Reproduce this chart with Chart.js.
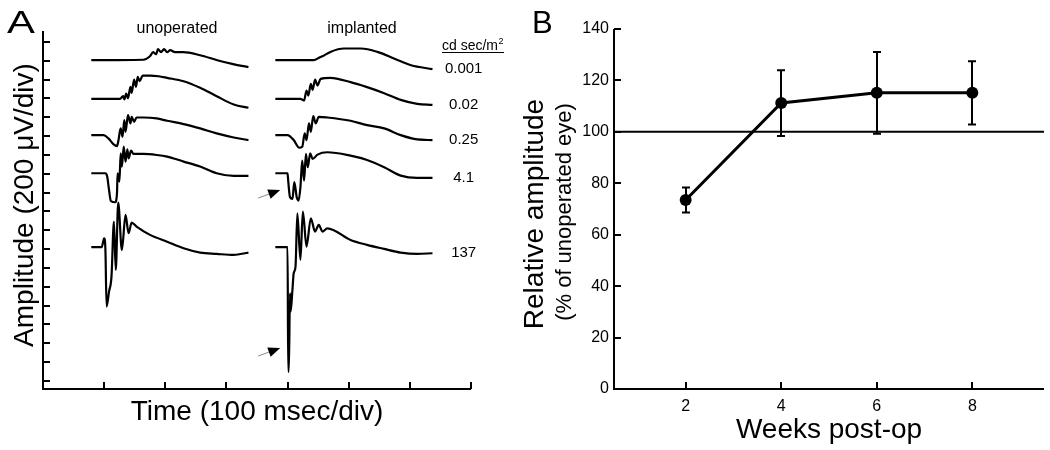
<!DOCTYPE html>
<html>
<head>
<meta charset="utf-8">
<script src="https://cdn.jsdelivr.net/npm/chart.js@4.4.1/dist/chart.umd.min.js"></script>
<style>
body { margin: 0; background: #fff; }
#wrap { position: relative; width: 1050px; height: 450px; }
#chartA { position: absolute; left: 0; top: 0; }
#chartB { position: absolute; left: 500px; top: 0; }
</style>
</head>
<body>
<div id="wrap">
  <canvas id="chartA" width="520" height="450"></canvas>
  <canvas id="chartB" width="550" height="450"></canvas>
</div>
<script>
const FONT = '"Liberation Sans", Arial, sans-serif';

// ---- Panel A: ERG traces, [time since flash (ms), amplitude from baseline (uV)] ----
const intensities = ['0.001', '0.02', '0.25', '4.1', '137'];
const baselines = [3405, 2995, 2610, 2205, 1420];   // uV, vertical stacking of the traces
const implantOffset = 300;                          // ms, implanted column starts 3 div later

const unop0001 = [[-21,0],[64,5],[75,42],[80,85],[85,64],[88,117],[93,85],[98,117],[103,85],[108,106],[116,85],[129,85],[157,53],[185,0],[211,-42],[236,-74]];
const unop002 = [[-21,0],[26,0],[31,28],[33,-7],[36,56],[39,7],[43,127],[45,64],[49,205],[52,127],[55,233],[58,187],[63,247],[75,247],[89,240],[103,223],[130,187],[157,117],[184,28],[212,-60],[236,-95]];
const unop025 = [[-21,0],[-1,0],[7,-35],[15,-95],[21,-117],[23,-71],[27,71],[30,-18],[33,159],[35,35],[39,212],[43,124],[45,195],[49,141],[53,187],[64,187],[86,177],[103,152],[130,117],[157,71],[184,18],[212,-25],[236,-53]];
const unop41 = [[-21,0],[2,0],[5,-35],[8,-177],[11,-294],[18,-308],[21,-212],[22,0],[25,-88],[27,212],[29,71],[32,283],[35,124],[38,255],[40,159],[44,240],[48,205],[64,205],[86,194],[103,177],[130,124],[157,71],[184,0],[212,-28],[236,-28]];
const unop137 = [[-21,0],[-4,0],[0,95],[2,-11],[4,-630],[8,-471],[12,-312],[16,272],[19,-241],[23,473],[29,-29],[35,343],[40,149],[45,261],[53,219],[75,131],[103,59],[130,-11],[157,-57],[184,-71],[212,-82],[236,-57]];

const impl0001 = [[-20,0],[43,0],[52,28],[57,42],[70,88],[92,124],[120,124],[147,88],[174,18],[202,-53],[237,-95]];
const impl002 = [[-20,0],[21,0],[27,-18],[31,88],[34,35],[38,159],[41,95],[45,205],[49,141],[54,212],[70,223],[103,177],[130,124],[158,60],[185,-11],[212,-53],[237,-64]];
const impl025 = [[-20,0],[0,0],[10,-53],[19,-134],[24,-124],[28,18],[31,-53],[35,124],[38,35],[42,201],[46,124],[51,194],[65,187],[103,152],[130,106],[158,71],[185,0],[212,-46],[237,-53]];
const impl41 = [[-20,0],[0,0],[1,-78],[4,-255],[8,-272],[11,-95],[15,-255],[18,-290],[21,-149],[24,134],[27,-78],[30,205],[33,64],[37,212],[41,152],[49,198],[65,223],[103,187],[130,141],[158,64],[185,-25],[212,-50],[237,-50]];
const impl137 = [[-20,0],[0,0],[1,-1320],[2,-1320],[4,-488],[5,-683],[8,-449],[10,-276],[13,-205],[16,360],[21,-134],[25,378],[31,7],[38,307],[45,166],[51,237],[57,166],[65,201],[103,77],[130,25],[158,-18],[185,-57],[212,-71],[237,-64]];

const unopTraces = [unop0001, unop002, unop025, unop41, unop137];
const implTraces = [impl0001, impl002, impl025, impl41, impl137];

// arrows marking the a-wave of the implanted eye: [t0, amp0, t1, amp1] on the A axes
const arrows = [[252, 1942, 288, 2027], [252, 265, 288, 350]];

const timeTicks = [0, 100, 200, 300, 400, 500, 600];
const ampTicks = [];
for (let v = 0; v <= 3600; v += 200) ampTicks.push(v);

// ---- Panel B: relative amplitude ----
const weeks = [2, 4, 6, 8];
const relAmp = [73.5, 111.2, 115.2, 115.2];
const relSem = [4.9, 12.8, 15.9, 12.3];
const weekTicks = [2, 4, 6, 8];
const relTicks = [0, 20, 40, 60, 80, 100, 120, 140];

function toPoints(pairs, dx, dy) {
    return pairs.map(([t, a]) => ({ x: t + dx, y: a + dy }));
}

function vText(ctx, text, x, y, font) {
    ctx.save();
    ctx.translate(x, y);
    ctx.rotate(-Math.PI / 2);
    ctx.font = font;
    ctx.textAlign = 'center';
    ctx.textBaseline = 'alphabetic';
    ctx.fillText(text, 0, 0);
    ctx.restore();
}

const ergPanel = {
    id: 'ergPanel',
    afterDraw(chart) {
        const { ctx, chartArea: a, scales: { x, y } } = chart;
        ctx.save();
        ctx.strokeStyle = '#000';
        ctx.fillStyle = '#000';
        ctx.lineWidth = 2;
        ctx.lineJoin = 'miter';
        ctx.beginPath();
        ctx.moveTo(a.left, a.top);
        ctx.lineTo(a.left, a.bottom);
        ctx.lineTo(a.right, a.bottom);
        ctx.stroke();

        ctx.beginPath();
        ampTicks.forEach(v => {
            const py = Math.round(y.getPixelForValue(v));
            ctx.moveTo(a.left, py);
            ctx.lineTo(a.left + 7, py);
        });
        timeTicks.forEach(v => {
            const px = Math.round(x.getPixelForValue(v));
            ctx.moveTo(px, a.bottom);
            ctx.lineTo(px, a.bottom - 7);
        });
        ctx.stroke();

        // intensity labels at the level where each implanted trace ends
        ctx.font = '15px ' + FONT;
        ctx.textAlign = 'center';
        ctx.textBaseline = 'middle';
        intensities.forEach((lab, i) => {
            const last = implTraces[i][implTraces[i].length - 1];
            ctx.fillText(lab, x.getPixelForValue(588), y.getPixelForValue(baselines[i] + last[1]));
        });

        // unit header, underlined with superscript
        ctx.textAlign = 'left';
        ctx.textBaseline = 'alphabetic';
        ctx.font = '14px ' + FONT;
        const hx = 442, hy = 50;
        ctx.fillText('cd sec/m', hx, hy);
        const w1 = ctx.measureText('cd sec/m').width;
        ctx.font = '9px ' + FONT;
        ctx.fillText('2', hx + w1 + 0.5, hy - 6);
        const w2 = ctx.measureText('2').width;
        ctx.lineWidth = 1;
        ctx.beginPath();
        ctx.moveTo(hx, hy + 2.5);
        ctx.lineTo(hx + w1 + w2 + 1, hy + 2.5);
        ctx.stroke();

        // column headings
        ctx.font = '16px ' + FONT;
        ctx.textAlign = 'center';
        ctx.fillText('unoperated', 177, 33);
        ctx.fillText('implanted', 362, 33);

        // arrows
        arrows.forEach(([t0, a0, t1, a1]) => {
            const x0 = x.getPixelForValue(t0), y0 = y.getPixelForValue(a0);
            const x1 = x.getPixelForValue(t1), y1 = y.getPixelForValue(a1);
            const ang = Math.atan2(y1 - y0, x1 - x0);
            const hl = 12, hw = 5;
            const bx = x1 - hl * Math.cos(ang), by = y1 - hl * Math.sin(ang);
            ctx.strokeStyle = '#888';
            ctx.lineWidth = 1;
            ctx.beginPath();
            ctx.moveTo(x0, y0);
            ctx.lineTo(bx, by);
            ctx.stroke();
            ctx.fillStyle = '#000';
            ctx.beginPath();
            ctx.moveTo(x1, y1);
            ctx.lineTo(bx + hw * Math.sin(ang), by - hw * Math.cos(ang));
            ctx.lineTo(bx - hw * Math.sin(ang), by + hw * Math.cos(ang));
            ctx.closePath();
            ctx.fill();
        });

        // titles
        ctx.fillStyle = '#000';
        ctx.textAlign = 'center';
        ctx.font = '28px ' + FONT;
        ctx.fillText('Time (100 msec/div)', 257, 420);
        vText(ctx, 'Amplitude (200 \u03BCV/div)', 33, 205, '28px ' + FONT);

        ctx.save();
        ctx.translate(7, 33);
        ctx.scale(1.35, 1);
        ctx.font = '31px ' + FONT;
        ctx.textAlign = 'left';
        ctx.fillText('A', 0, 0);
        ctx.restore();
        ctx.restore();
    }
};

const traceDatasets = [];
unopTraces.forEach((tr, i) => {
    traceDatasets.push({ data: toPoints(tr, 0, baselines[i]) });
});
implTraces.forEach((tr, i) => {
    traceDatasets.push({ data: toPoints(tr, implantOffset, baselines[i]) });
});
traceDatasets.forEach(ds => {
    ds.borderColor = '#000';
    ds.borderWidth = 2.2;
    ds.pointRadius = 0;
    ds.cubicInterpolationMode = 'monotone';
    ds.fill = false;
});

new Chart(document.getElementById('chartA'), {
    type: 'line',
    data: { datasets: traceDatasets },
    options: {
        responsive: false,
        animation: false,
        devicePixelRatio: 1,
        layout: { padding: { left: 43, top: 31, right: 49, bottom: 61 } },
        plugins: { legend: { display: false }, tooltip: { enabled: false } },
        scales: {
            x: { type: 'linear', display: false, min: -100, max: 600 },
            y: { type: 'linear', display: false, min: -85, max: 3715 }
        }
    },
    plugins: [ergPanel]
});

// ---- Panel B ----
const relPanel = {
    id: 'relPanel',
    beforeDatasetsDraw(chart) {
        const { ctx, scales: { x, y } } = chart;
        ctx.save();
        ctx.strokeStyle = '#000';
        ctx.lineWidth = 2;
        ctx.beginPath();
        weeks.forEach((w, i) => {
            const px = Math.round(x.getPixelForValue(w));
            const yHi = y.getPixelForValue(relAmp[i] + relSem[i]);
            const yLo = y.getPixelForValue(relAmp[i] - relSem[i]);
            ctx.moveTo(px, yHi); ctx.lineTo(px, yLo);
            ctx.moveTo(px - 4, yHi); ctx.lineTo(px + 4, yHi);
            ctx.moveTo(px - 4, yLo); ctx.lineTo(px + 4, yLo);
        });
        ctx.stroke();
        ctx.restore();
    },
    afterDraw(chart) {
        const { ctx, chartArea: a, scales: { x, y } } = chart;
        ctx.save();
        ctx.strokeStyle = '#000';
        ctx.fillStyle = '#000';
        ctx.lineWidth = 2;
        ctx.beginPath();
        ctx.moveTo(a.left, a.top);
        ctx.lineTo(a.left, a.bottom);
        ctx.lineTo(a.right, a.bottom);
        ctx.stroke();

        ctx.beginPath();
        relTicks.forEach(v => {
            const py = Math.round(y.getPixelForValue(v));
            ctx.moveTo(a.left, py);
            ctx.lineTo(a.left + 7, py);
        });
        weekTicks.forEach(v => {
            const px = Math.round(x.getPixelForValue(v));
            ctx.moveTo(px, a.bottom);
            ctx.lineTo(px, a.bottom - 7);
        });
        ctx.stroke();

        ctx.font = '16px ' + FONT;
        ctx.textAlign = 'right';
        ctx.textBaseline = 'middle';
        relTicks.forEach(v => ctx.fillText(String(v), a.left - 5, y.getPixelForValue(v)));
        ctx.textAlign = 'center';
        ctx.textBaseline = 'top';
        weekTicks.forEach(v => ctx.fillText(String(v), x.getPixelForValue(v), a.bottom + 10));

        ctx.textBaseline = 'alphabetic';
        ctx.font = '28px ' + FONT;
        ctx.fillText('Weeks post-op', 329, 438);
        vText(ctx, 'Relative amplitude', 43, 214, '28px ' + FONT);
        vText(ctx, '(% of unoperated eye)', 71, 212, '22px ' + FONT);

        ctx.font = '31px ' + FONT;
        ctx.textAlign = 'left';
        ctx.fillText('B', 32, 33);
        ctx.restore();
    }
};

new Chart(document.getElementById('chartB'), {
    type: 'line',
    data: {
        datasets: [
            {
                data: [{ x: 0.5, y: 100 }, { x: 9.5, y: 100 }],
                borderColor: '#000',
                borderWidth: 2,
                pointRadius: 0
            },
            {
                data: weeks.map((w, i) => ({ x: w, y: relAmp[i] })),
                borderColor: '#000',
                borderWidth: 3,
                pointRadius: 6,
                pointBackgroundColor: '#000',
                pointBorderWidth: 0,
                tension: 0
            }
        ]
    },
    options: {
        responsive: false,
        animation: false,
        devicePixelRatio: 1,
        layout: { padding: { left: 114, top: 29, right: 5, bottom: 61 } },
        plugins: { legend: { display: false }, tooltip: { enabled: false } },
        scales: {
            x: { type: 'linear', display: false, min: 0.5, max: 9.5 },
            y: { type: 'linear', display: false, min: 0, max: 140 }
        }
    },
    plugins: [relPanel]
});
</script>
</body>
</html>
